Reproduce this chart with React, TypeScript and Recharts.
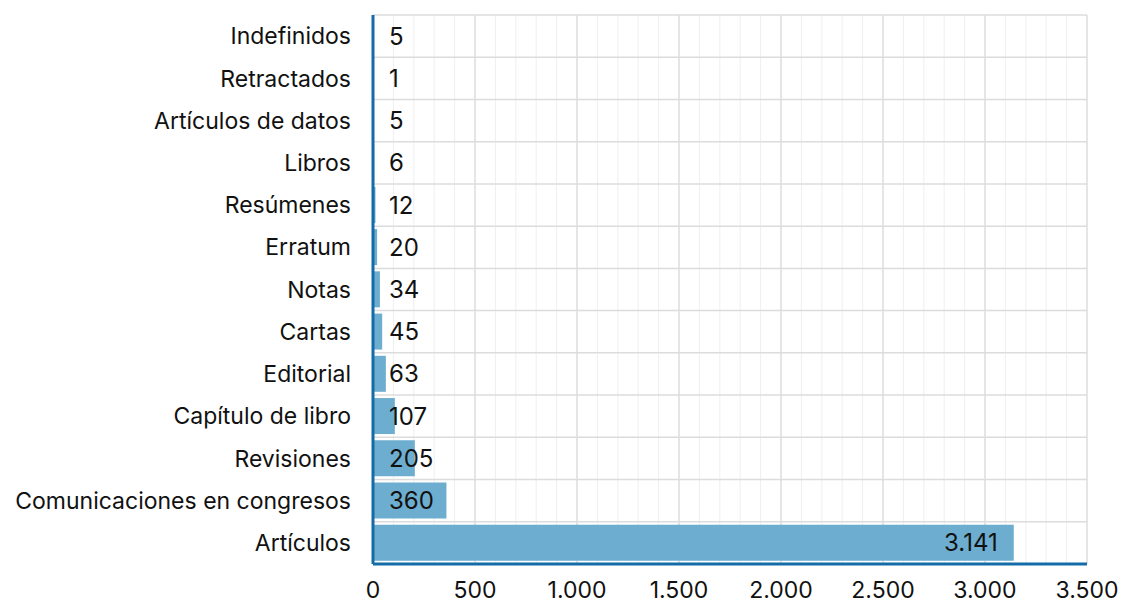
import React from 'react';
import {
  BarChart,
  Bar,
  XAxis,
  YAxis,
  CartesianGrid,
  LabelList,
} from 'recharts';

const categories = [
  'Indefinidos',
  'Retractados',
  'Artículos de datos',
  'Libros',
  'Resúmenes',
  'Erratum',
  'Notas',
  'Cartas',
  'Editorial',
  'Capítulo de libro',
  'Revisiones',
  'Comunicaciones en congresos',
  'Artículos',
];
const counts = [5, 1, 5, 6, 12, 20, 34, 45, 63, 107, 205, 360, 3141];

const majorTicks = [0, 500, 1000, 1500, 2000, 2500, 3000, 3500];
const minorTicks = [
  100, 200, 300, 400, 600, 700, 800, 900, 1100, 1200, 1300, 1400, 1600, 1700, 1800, 1900,
  2100, 2200, 2300, 2400, 2600, 2700, 2800, 2900, 3100, 3200, 3300, 3400,
];
const X_MAX = 3500;

const FONT = 'Inter, "Noto Sans", sans-serif';
const AXIS_BLUE = '#136ca8';
const BAR_BLUE = '#6dadcf';

const data = categories.map((name, i) => ({ name, value: counts[i] }));

const fmt = (v: number) => v.toLocaleString('de-DE');

// label sits near the bar start, except for long bars where it goes inside the end
function ValueLabel(props: any) {
  const { x, y, width, height, value } = props;
  const big = width > 200;
  return (
    <text
      x={big ? x + width - 16 : x + 16}
      y={y + height / 2}
      dy="0.36em"
      textAnchor={big ? 'end' : 'start'}
      fill="#111"
      fontSize={24}
      fontFamily={FONT}
    >
      {fmt(Number(value))}
    </text>
  );
}

const toX = (xAxis: any, offset: any, v: number) =>
  xAxis && typeof xAxis.scale === 'function' ? xAxis.scale(v) : offset.left + (v / X_MAX) * offset.width;

export default function App() {
  const bandLines = ({ offset }: any) =>
    Array.from({ length: categories.length + 1 }, (_, i) => offset.top + (i * offset.height) / categories.length);
  const minorLines = ({ xAxis, offset }: any) => minorTicks.map((v) => toX(xAxis, offset, v));
  const majorLines = ({ xAxis, offset }: any) => majorTicks.map((v) => toX(xAxis, offset, v));

  return (
    <div style={{ position: 'absolute', left: 0, top: 0, background: '#fff' }}>
      <BarChart
        width={1123}
        height={604}
        data={data}
        layout="vertical"
        margin={{ top: 15, right: 36, bottom: 0, left: 0 }}
        barCategoryGap="7%"
      >
        <CartesianGrid
          horizontal={false}
          verticalCoordinatesGenerator={minorLines}
          stroke="#efefef"
          strokeWidth={1}
        />
        <CartesianGrid
          horizontalCoordinatesGenerator={bandLines}
          verticalCoordinatesGenerator={majorLines}
          stroke="#dcdcdc"
          strokeWidth={1.5}
        />
        <XAxis
          type="number"
          domain={[0, X_MAX]}
          ticks={majorTicks}
          tickFormatter={fmt}
          tick={{ fill: '#111', fontSize: 23, fontFamily: FONT }}
          tickLine={false}
          tickMargin={12}
          axisLine={{ stroke: AXIS_BLUE, strokeWidth: 3 }}
          height={40}
        />
        <YAxis
          type="category"
          dataKey="name"
          width={373}
          tick={{ fill: '#111', fontSize: 23, fontFamily: FONT }}
          tickLine={false}
          tickMargin={16}
          axisLine={{ stroke: AXIS_BLUE, strokeWidth: 3 }}
          interval={0}
        />
        <Bar dataKey="value" fill={BAR_BLUE} isAnimationActive={false}>
          <LabelList dataKey="value" content={ValueLabel} />
        </Bar>
      </BarChart>
    </div>
  );
}
